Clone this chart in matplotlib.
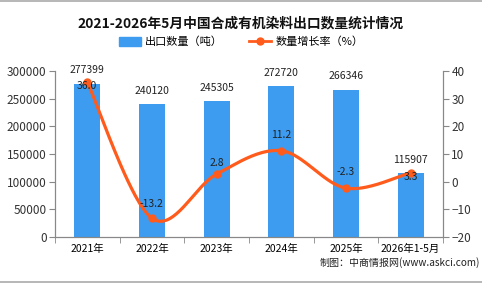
import numpy as np
import matplotlib.pyplot as plt
from matplotlib.lines import Line2D
from matplotlib.patches import Patch

plt.rcParams['font.family'] = ['Noto Sans CJK SC', 'DejaVu Sans']

categories = ['2021年', '2022年', '2023年', '2024年', '2025年', '2026年1-5月']
export_qty = [277399, 240120, 245305, 272720, 266346, 115907]
growth = [36.0, -13.2, 2.8, 11.2, -2.3, 3.3]

BAR_C = '#3d9cf0'
LINE_C = '#ff5b1c'


def smooth(xs, ys, n=40, t=0.5):
    # cardinal spline through the points, just for drawing the curve
    xs = np.asarray(xs, float)
    ys = np.asarray(ys, float)
    px, py = [], []
    for i in range(len(xs) - 1):
        x0, x1 = xs[max(i - 1, 0)], xs[i]
        x2, x3 = xs[i + 1], xs[min(i + 2, len(xs) - 1)]
        y0, y1 = ys[max(i - 1, 0)], ys[i]
        y2, y3 = ys[i + 1], ys[min(i + 2, len(ys) - 1)]
        m1x, m1y = t * (x2 - x0), t * (y2 - y0)
        m2x, m2y = t * (x3 - x1), t * (y3 - y1)
        s = np.linspace(0, 1, n)
        h00 = 2 * s**3 - 3 * s**2 + 1
        h10 = s**3 - 2 * s**2 + s
        h01 = -2 * s**3 + 3 * s**2
        h11 = s**3 - s**2
        px.extend(h00 * x1 + h10 * m1x + h01 * x2 + h11 * m2x)
        py.extend(h00 * y1 + h10 * m1y + h01 * y2 + h11 * m2y)
    return px, py


fig = plt.figure(figsize=(4.82, 2.84), dpi=100)
ax = fig.add_axes([0.114, 0.165, 0.805, 0.585])
ax2 = ax.twinx()

x = np.arange(len(categories))
ax.bar(x, export_qty, width=0.4, color=BAR_C, zorder=2)
for xi, v in zip(x, export_qty):
    ax.annotate(str(v), (xi, v), xytext=(0, 9.5), textcoords='offset points',
                ha='center', va='center', fontsize=7.5, color='#222222')

ax.set_xlim(-0.5, len(categories) - 0.5)
ax.set_ylim(0, 300000)
ax.set_yticks(range(0, 300001, 50000))
ax.set_xticks(x)
ax.set_xticklabels(categories, fontsize=7.5)
ax.set_xticks(np.arange(-0.5, len(categories), 1), minor=True)
ax.tick_params(axis='x', which='major', length=0, pad=5)
ax.tick_params(axis='x', which='minor', length=4, color='#888888')
ax.tick_params(axis='y', labelsize=8.5, length=4, color='#888888', pad=2, labelcolor='#333333')

sx, sy = smooth(x, growth)
ax2.plot(sx, sy, color=LINE_C, lw=2.3, zorder=3)
ax2.plot(x, growth, 'o', color=LINE_C, ms=5, zorder=4)
# label offsets in points (some labels sit below the point to dodge others)
lbl_off = [-3, 10, 8, 11, 11.5, -3.5]
for xi, g, off in zip(x, growth, lbl_off):
    ax2.annotate(f'{g:.1f}', (xi, g), xytext=(0, off), textcoords='offset points',
                 ha='center', va='center', fontsize=7.5, color='#222222', zorder=5)
ax2.set_ylim(-20, 40)
ax2.set_yticks(range(-20, 41, 10))
ax2.tick_params(axis='y', labelsize=8.5, length=4, color='#888888', pad=2, labelcolor='#333333')

for a in (ax, ax2):
    a.spines['top'].set_visible(False)
    a.spines['left'].set_color('#888888')
    a.spines['right'].set_color('#888888')
    a.spines['bottom'].set_color('#888888')

fig.text(0.5, 0.919, '2021-2026年5月中国合成有机染料出口数量统计情况', ha='center', va='center',
         fontsize=9.9, fontweight='bold', color='#111111')

handles = [Patch(color=BAR_C), Line2D([], [], color=LINE_C, lw=2, marker='o', ms=5)]
fig.legend(handles, ['出口数量（吨）', '数量增长率（%）'], loc='center', bbox_to_anchor=(0.5, 0.852),
           ncol=2, frameon=False, fontsize=8, handlelength=2.0, handleheight=0.8,
           handletextpad=0.4, columnspacing=2.3, borderpad=0)

fig.text(0.996, 0.077, '制图：中商情报网(www.askci.com)', ha='right', va='center', fontsize=7.2, color='#222222')

fig.add_artist(Line2D([0, 1], [0.998, 0.998], color='#aaaaaa', lw=1.2))
fig.add_artist(Line2D([0, 1], [0.006, 0.006], color='#aaaaaa', lw=1.2))

fig.savefig('out.png', dpi=100)
